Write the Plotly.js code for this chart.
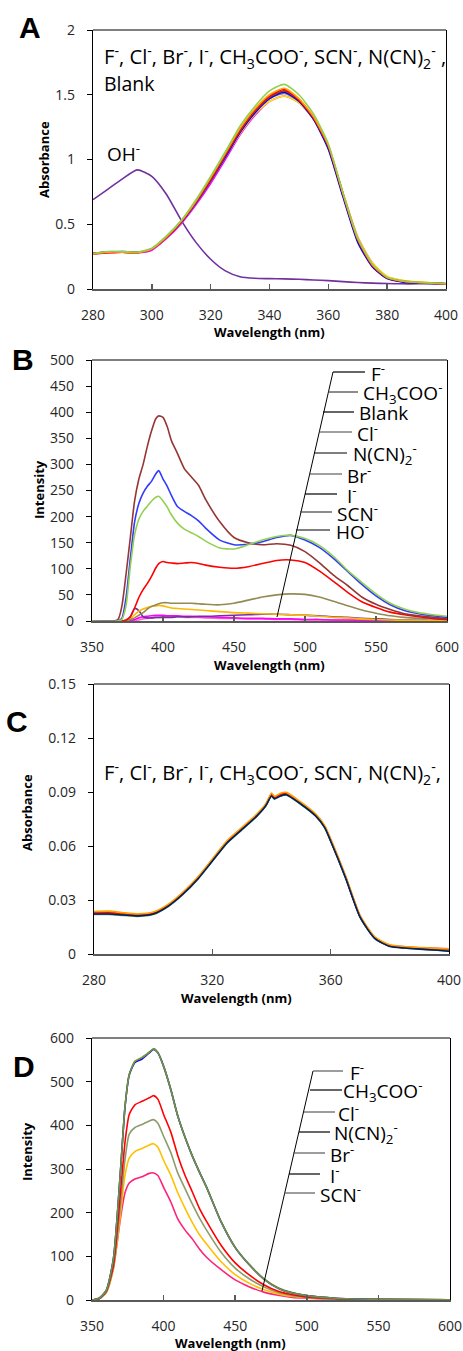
<!DOCTYPE html>
<html>
<head>
<meta charset="utf-8">
<script src="https://cdn.plot.ly/plotly-3.0.1.min.js"></script>
<style>
html,body{margin:0;padding:0;background:#fff;}
#chart{width:463px;height:1351px;}
</style>
</head>
<body>
<div id="chart"></div>
<script>
// ---------------- Panel A : absorbance ----------------
const A_wl = [280,285,290,295,300,305,310,315,320,325,330,335,340,345,350,355,360,365,370,375,380,385,390,395,400];
const A_F      = [0.27,0.29,0.29,0.285,0.315,0.41,0.53,0.69,0.87,1.06,1.26,1.41,1.53,1.58,1.50,1.35,1.12,0.74,0.39,0.19,0.09,0.062,0.052,0.046,0.041];
const A_Cl     = [0.275,0.285,0.285,0.28,0.31,0.405,0.525,0.68,0.86,1.05,1.24,1.39,1.50,1.55,1.47,1.33,1.11,0.74,0.39,0.19,0.09,0.063,0.052,0.046,0.041];
const A_Br     = [0.27,0.28,0.285,0.28,0.31,0.40,0.52,0.675,0.85,1.04,1.23,1.38,1.49,1.54,1.46,1.32,1.10,0.73,0.38,0.18,0.087,0.06,0.05,0.045,0.04];
const A_I      = [0.275,0.285,0.29,0.285,0.31,0.40,0.515,0.665,0.835,1.02,1.21,1.36,1.47,1.52,1.45,1.31,1.08,0.71,0.36,0.17,0.08,0.055,0.047,0.043,0.04];
const A_CH3COO = [0.275,0.285,0.285,0.28,0.31,0.40,0.52,0.67,0.84,1.03,1.22,1.37,1.48,1.53,1.46,1.32,1.10,0.73,0.38,0.18,0.085,0.06,0.05,0.045,0.04];
const A_SCN    = [0.275,0.285,0.285,0.28,0.31,0.40,0.515,0.665,0.835,1.02,1.21,1.36,1.47,1.51,1.45,1.31,1.09,0.72,0.37,0.175,0.083,0.058,0.048,0.044,0.04];
const A_NCN2   = [0.275,0.285,0.285,0.28,0.31,0.40,0.515,0.665,0.835,1.02,1.20,1.35,1.45,1.49,1.44,1.31,1.10,0.74,0.40,0.20,0.097,0.067,0.055,0.048,0.043];
const A_Blank  = [0.27,0.28,0.285,0.28,0.30,0.39,0.505,0.65,0.815,1.00,1.19,1.34,1.45,1.49,1.44,1.31,1.10,0.74,0.40,0.20,0.095,0.065,0.053,0.047,0.042];
const A_OH     = [0.69,0.77,0.85,0.92,0.87,0.73,0.53,0.36,0.23,0.14,0.095,0.083,0.08,0.078,0.075,0.07,0.065,0.057,0.05,0.045,0.042,0.04,0.04,0.04,0.04];

// ---------------- Panel B : fluorescence ----------------
const B_wl = [350,368,371,374,377,380,383,386,389,392,395,397,400,403,406,410,415,420,425,430,440,450,460,470,480,490,500,510,520,530,540,550,560,570,580,590,600];
const B_F      = [0,0,3,30,105,165,195,210,220,230,237,239,230,218,203,188,176,169,162,153,140,138,146,155,162,164,158,145,124,97,74,52,34,23,16,12,9];
const B_CH3COO = [0,0,5,45,120,190,225,245,258,268,282,288,272,258,240,220,210,202,192,178,155,146,147,152,160,164,155,141,120,95,70,48,31,20,14,10,7];
const B_Blank  = [0,2,28,90,160,230,272,300,335,365,388,393,390,372,345,322,292,276,260,233,190,160,150,146,148,145,133,112,88,68,46,32,22,14,10,7,5];
const B_Cl     = [0,0,0,2,8,25,45,60,72,86,102,110,114,112,111,110,111,112,110,107,103,101,104,110,116,117,112,96,76,55,37,26,17,12,8,5,3];
const B_NCN2   = [0,0,0,1,3,6,11,16,23,28,31,33,35,35,34,34,34,34,33,32,31,34,40,46,50,52,51,46,38,29,21,15,10,7,5,4,3];
const B_Br     = [0,0,0,0,4,12,19,23,26,28,29,30,29,27,25,24,23,22,21,20,18,16,15,14,13,12,11,9,7,6,4,3,2,1.5,1,0.5,0.3];
const B_I      = [0,0,0,0,8,24,20,8,6,6,7,7,7,7,7,8,8,8,9,9,10,11,12,13,13,12,11,10,8,7,5,4,3,2,1.5,1,0.5];
const B_SCN    = [0,0,0,0,1,3,6,8,9,10,11,11,11,10,10,10,9,9,8,8,7,6,5,5,4,4,3,3,2,2,1.5,1,1,0.5,0.5,0.3,0.3];
const B_HO     = [0,0,0,0,0,1,2,4,5,6,7,7,8,8,8,8,7,7,7,6,5,5,4,4,3,3,2,2,2,1,1,1,0.5,0.5,0.3,0.2,0.2];

// ---------------- Panel C : absorbance (dilute) ----------------
const C_wl = [280,285,290,295,300,305,310,315,320,325,330,335,338,340,341,343,345,350,355,358,360,365,370,375,380,385,390,395,400];
const C_F      = [0.0220,0.0220,0.0214,0.0209,0.0219,0.0262,0.0329,0.0413,0.0515,0.0616,0.0690,0.0764,0.0820,0.0876,0.0861,0.0877,0.0884,0.0830,0.0765,0.0701,0.0627,0.0424,0.0202,0.0085,0.0043,0.0034,0.0028,0.0023,0.0017];
const C_Cl     = [0.0225,0.0226,0.0220,0.0214,0.0224,0.0267,0.0334,0.0418,0.0520,0.0621,0.0695,0.0769,0.0825,0.0882,0.0866,0.0882,0.0889,0.0835,0.0769,0.0705,0.0631,0.0428,0.0206,0.0087,0.0045,0.0036,0.0030,0.0025,0.0020];
const C_Br     = [0.0227,0.0228,0.0221,0.0216,0.0226,0.0269,0.0336,0.0419,0.0521,0.0622,0.0696,0.0770,0.0826,0.0884,0.0867,0.0884,0.0890,0.0836,0.0770,0.0706,0.0632,0.0429,0.0207,0.0088,0.0046,0.0037,0.0031,0.0027,0.0023];
const C_I      = [0.0230,0.0231,0.0224,0.0218,0.0228,0.0271,0.0338,0.0421,0.0523,0.0624,0.0698,0.0772,0.0828,0.0887,0.0870,0.0887,0.0893,0.0838,0.0772,0.0708,0.0634,0.0431,0.0209,0.0090,0.0048,0.0040,0.0035,0.0031,0.0029];
const C_CH3COO = [0.0224,0.0224,0.0219,0.0213,0.0223,0.0266,0.0333,0.0416,0.0518,0.0619,0.0693,0.0767,0.0823,0.0880,0.0864,0.0880,0.0887,0.0833,0.0767,0.0703,0.0629,0.0426,0.0204,0.0086,0.0044,0.0035,0.0029,0.0024,0.0018];
const C_SCN    = [0.0236,0.0238,0.0229,0.0223,0.0233,0.0276,0.0343,0.0426,0.0528,0.0630,0.0703,0.0777,0.0833,0.0894,0.0876,0.0893,0.0898,0.0843,0.0777,0.0713,0.0640,0.0436,0.0213,0.0094,0.0051,0.0041,0.0036,0.0032,0.0029];
const C_NCN2   = [0.0222,0.0222,0.0217,0.0212,0.0222,0.0265,0.0332,0.0415,0.0517,0.0618,0.0692,0.0766,0.0822,0.0878,0.0862,0.0878,0.0885,0.0832,0.0766,0.0702,0.0628,0.0425,0.0203,0.0085,0.0042,0.0033,0.0027,0.0022,0.0015];

// ---------------- Panel D : fluorescence (dilute) ----------------
const D_wl = [350,355,360,365,370,373,376,380,385,390,393,396,400,405,410,415,420,425,430,440,450,460,470,480,490,500,520,550,600];
const D_F      = [0,4,22,95,300,440,515,544,552,566,574,566,535,482,420,372,330,293,258,180,120,80,48,27,16,10,4,1.5,0.5];
const D_CH3COO = [0,4,22,96,302,442,517,547,556,568,576,567,536,483,421,373,331,294,259,181,121,81,49,28,17,10,4,1.5,0.5];
const D_Cl     = [0,4,22,95,301,441,516,546,555,567,575,566,535,482,420,372,330,293,258,180,120,80,48,27,16,10,4,1.5,0.5];
const D_NCN2   = [0,3,20,80,250,360,425,447,455,463,468,460,425,385,330,285,248,210,180,126,85,57,35,20,12,7,3,1,0.3];
const D_Br     = [0,3,18,75,220,320,380,395,402,410,413,405,375,338,290,255,220,188,160,110,73,48,30,17,10,6,2.5,0.8,0.3];
const D_I      = [0,3,17,72,200,285,325,340,347,355,358,350,320,286,245,210,178,150,128,88,58,38,24,14,8,5,2,0.7,0.2];
const D_SCN    = [0,3,18,75,190,245,268,277,282,290,291,285,258,225,185,160,140,117,98,70,46,30,18,11,6,4,1.5,0.5,0];

// ---------------- helpers for layout (paper coords from pixels) ----------------
const W = 463, H = 1351;
const PX = x => x / W;
const PY = y => 1 - y / H;

function line(x, y, name, color, xa, ya, w) {
  return {x: x, y: y, name: name, type: 'scatter', mode: 'lines',
          xaxis: xa, yaxis: ya, line: {color: color, width: w || 1.6, shape: 'spline', smoothing: 0.6},
          showlegend: false, hoverinfo: 'skip'};
}

const data = [
  // A
  line(A_wl, A_OH, 'OH-', '#7030A0', 'x', 'y'),
  line(A_wl, A_Blank, 'Blank', '#FF00FF', 'x', 'y'),
  line(A_wl, A_NCN2, 'N(CN)2-', '#FFE600', 'x', 'y'),
  line(A_wl, A_SCN, 'SCN-', '#808080', 'x', 'y'),
  line(A_wl, A_I, 'I-', '#0000FF', 'x', 'y'),
  line(A_wl, A_CH3COO, 'CH3COO-', '#943634', 'x', 'y'),
  line(A_wl, A_Br, 'Br-', '#FF0000', 'x', 'y'),
  line(A_wl, A_Cl, 'Cl-', '#FFA000', 'x', 'y'),
  line(A_wl, A_F, 'F-', '#92D050', 'x', 'y'),
  // B
  line(B_wl, B_HO, 'HO-', '#FF66CC', 'x2', 'y2'),
  line(B_wl, B_SCN, 'SCN-', '#FF00FF', 'x2', 'y2'),
  line(B_wl, B_I, 'I-', '#7030A0', 'x2', 'y2'),
  line(B_wl, B_Br, 'Br-', '#FFB800', 'x2', 'y2'),
  line(B_wl, B_NCN2, 'N(CN)2-', '#948A54', 'x2', 'y2'),
  line(B_wl, B_Cl, 'Cl-', '#FF0000', 'x2', 'y2'),
  line(B_wl, B_Blank, 'Blank', '#943634', 'x2', 'y2'),
  line(B_wl, B_CH3COO, 'CH3COO-', '#2F3CFF', 'x2', 'y2'),
  line(B_wl, B_F, 'F-', '#92D050', 'x2', 'y2'),
  // C
  line(C_wl, C_F, 'F-', '#70AD47', 'x3', 'y3'),
  line(C_wl, C_Cl, 'Cl-', '#7030A0', 'x3', 'y3'),
  line(C_wl, C_CH3COO, 'CH3COO-', '#4472C4', 'x3', 'y3'),
  line(C_wl, C_Br, 'Br-', '#808080', 'x3', 'y3'),
  line(C_wl, C_I, 'I-', '#FF0000', 'x3', 'y3'),
  line(C_wl, C_SCN, 'SCN-', '#FFA000', 'x3', 'y3'),
  line(C_wl, C_NCN2, 'N(CN)2-', '#002060', 'x3', 'y3'),
  // D
  line(D_wl, D_SCN, 'SCN-', '#FF2277', 'x4', 'y4'),
  line(D_wl, D_I, 'I-', '#FFC000', 'x4', 'y4'),
  line(D_wl, D_Br, 'Br-', '#8E9C6C', 'x4', 'y4'),
  line(D_wl, D_NCN2, 'N(CN)2-', '#FF0000', 'x4', 'y4'),
  line(D_wl, D_CH3COO, 'CH3COO-', '#9BBB59', 'x4', 'y4'),
  line(D_wl, D_F, 'F-', '#0000FF', 'x4', 'y4'),
  line(D_wl, D_Cl, 'Cl-', '#76933C', 'x4', 'y4')
];

const tickFont = {family: 'Open Sans, sans-serif', size: 14, color: '#262626'};

function xax(range, dtick, left, right, yanchor) {
  return {domain: [PX(left), PX(right)], range: range, dtick: dtick, tick0: range[0],
          anchor: yanchor, showline: true, linecolor: '#595959', linewidth: 2, mirror: false,
          ticks: 'inside', ticklen: 5, tickwidth: 1.5, tickcolor: '#595959',
          showgrid: false, zeroline: false, tickfont: tickFont, ticklabelstandoff: 12, fixedrange: true};
}
function yax(range, dtick, top, bottom, xanchor) {
  return {domain: [PY(bottom), PY(top)], range: range, dtick: dtick, tick0: 0,
          anchor: xanchor, showline: true, linecolor: '#000', linewidth: 1.2, mirror: true,
          ticks: 'outside', ticklen: 5, tickwidth: 1, tickcolor: '#000',
          showgrid: false, zeroline: false, tickfont: tickFont, ticklabelstandoff: 9, fixedrange: true};
}

const labFont = {family: 'Open Sans, sans-serif', size: 19, color: '#000'};
const bigFont = {family: 'Open Sans, sans-serif', size: 20.2, color: '#000'};
const midFont = {family: 'Open Sans, sans-serif', size: 19.5, color: '#000'};
const titleFont = {family: 'Open Sans, sans-serif', size: 13, color: '#000'};
const panelFont = {family: 'Liberation Sans, Arial, sans-serif', size: 30, color: '#000'};

const wantLeft = {};   // annotation index -> wanted left edge (px)
const annotations = [];
function ann(text, x, y, font, opts) {
  const a = Object.assign({text: text, x: PX(x), y: PY(y), xref: 'paper', yref: 'paper',
    showarrow: false, xanchor: 'left', yanchor: 'middle', font: font}, opts || {});
  if (a.xanchor === 'left') wantLeft[annotations.length] = x;
  annotations.push(a);
}

ann('<b>A</b>', 30, 28, panelFont, {xanchor: 'center'});
ann('<b>B</b>', 23, 360, panelFont, {xanchor: 'center'});
ann('<b>C</b>', 17, 721, panelFont, {xanchor: 'center'});
ann('<b>D</b>', 24, 1066, panelFont, {xanchor: 'center'});
// axis titles
ann('<b>Absorbance</b>', 44, 160, titleFont, {xanchor: 'center', textangle: -90});
ann('<b>Wavelength (nm)</b>', 269, 332, titleFont, {xanchor: 'center'});
ann('<b>Intensity</b>', 39, 490, titleFont, {xanchor: 'center', textangle: -90});
ann('<b>Wavelength (nm)</b>', 269, 665, titleFont, {xanchor: 'center'});
ann('<b>Absorbance</b>', 27, 813, titleFont, {xanchor: 'center', textangle: -90});
ann('<b>Wavelength (nm)</b>', 236, 998, titleFont, {xanchor: 'center'});
ann('<b>Intensity</b>', 27, 1152, titleFont, {xanchor: 'center', textangle: -90});
ann('<b>Wavelength (nm)</b>', 230, 1343, titleFont, {xanchor: 'center'});
// panel A text
ann('F<sup>-</sup>, Cl<sup>-</sup>, Br<sup>-</sup>, I<sup>-</sup>, CH<sub>3</sub>COO<sup>-</sup>, SCN<sup>-</sup>, N(CN)<sub>2</sub><sup>-</sup> ,', 104, 57, bigFont);
ann('Blank', 104, 83, midFont);
ann('OH<sup>-</sup>', 107, 153, labFont);
// panel C text
ann('F<sup>-</sup>, Cl<sup>-</sup>, Br<sup>-</sup>, I<sup>-</sup>, CH<sub>3</sub>COO<sup>-</sup>, SCN<sup>-</sup>, N(CN)<sub>2</sub><sup>-</sup>,', 104, 773, bigFont);

// leader labels: [text, lineStartX, lineEndX, y, textX]
const B_labels = [
  ['F<sup>-</sup>', 333, 365, 372, 371],
  ['CH<sub>3</sub>COO<sup>-</sup>', 328, 358, 392, 363],
  ['Blank', 323, 354, 412, 359],
  ['Cl<sup>-</sup>', 319, 352, 432, 357],
  ['N(CN)<sub>2</sub><sup>-</sup>', 314, 347, 453, 353],
  ['Br<sup>-</sup>', 309, 342, 474, 347],
  ['I<sup>-</sup>', 305, 337, 494, 347],
  ['SCN<sup>-</sup>', 300, 332, 512, 337],
  ['HO<sup>-</sup>', 296, 330, 530, 336]
];
const D_labels = [
  ['F<sup>-</sup>', 313, 343, 1071, 350],
  ['CH<sub>3</sub>COO<sup>-</sup>', 310, 342, 1090, 343],
  ['Cl<sup>-</sup>', 304, 335, 1112, 338],
  ['N(CN)<sub>2</sub><sup>-</sup>', 299, 330, 1132, 334],
  ['Br<sup>-</sup>', 293, 325, 1153, 330],
  ['I<sup>-</sup>', 289, 320, 1174, 330],
  ['SCN<sup>-</sup>', 284, 315, 1193, 320]
];

const shapes = [];
function seg(x0, y0, x1, y1, color, w) {
  shapes.push({type: 'line', xref: 'paper', yref: 'paper', x0: PX(x0), y0: PY(y0), x1: PX(x1), y1: PY(y1),
               line: {color: color, width: w || 1}});
}
// top frame lines
[['x','y'],['x2','y2'],['x3','y3'],['x4','y4']].forEach(p => {
  shapes.push({type: 'line', xref: p[0] + ' domain', yref: p[1] + ' domain', x0: 0, x1: 1, y0: 1, y1: 1,
               line: {color: '#000', width: 1.2}});
});
seg(333, 372, 277, 617, '#000', 1);
B_labels.forEach((l, i) => {
  seg(l[1], l[3], l[2], l[3], i % 2 ? '#404040' : '#000', 1.2);
  ann(l[0], l[4], l[3] + 1, labFont);
});
seg(313, 1071, 262, 1291, '#000', 1);
D_labels.forEach((l, i) => {
  seg(l[1], l[3], l[2], l[3], i % 2 ? '#000' : '#595959', 1.2);
  ann(l[0], l[4], l[3] + 1, labFont);
});

const layout = {
  width: W, height: H, margin: {l: 0, r: 0, t: 0, b: 0},
  paper_bgcolor: '#fff', plot_bgcolor: '#fff', showlegend: false,
  xaxis:  xax([280, 400], 20, 93, 446, 'y'),
  yaxis:  yax([0, 2], 0.5, 30, 289, 'x'),
  xaxis2: xax([350, 600], 50, 92, 447, 'y2'),
  yaxis2: yax([0, 500], 50, 360, 621, 'x2'),
  xaxis3: xax([280, 400], 40, 94, 449, 'y3'),
  yaxis3: yax([0, 0.15], 0.03, 684, 954, 'x3'),
  xaxis4: xax([350, 600], 50, 92, 450, 'y4'),
  yaxis4: yax([0, 600], 100, 1038, 1300, 'x4'),
  annotations: annotations,
  shapes: shapes
};

Plotly.newPlot('chart', data, layout, {staticPlot: true, displayModeBar: false}).then(gd => {
  // make left-anchored texts start exactly where the reference has them
  const root = gd.getBoundingClientRect();
  const upd = {};
  gd.querySelectorAll('.annotation').forEach(g => {
    const i = +g.getAttribute('data-index');
    if (!(i in wantLeft)) return;
    const t = g.querySelector('.annotation-text');
    if (!t) return;
    const r = t.getBoundingClientRect();
    const dx = wantLeft[i] - (r.left - root.left);
    if (Math.abs(dx) > 0.5) upd['annotations[' + i + '].xshift'] = Math.round(dx);
  });
  if (Object.keys(upd).length) return Plotly.relayout(gd, upd);
});
</script>
</body>
</html>
